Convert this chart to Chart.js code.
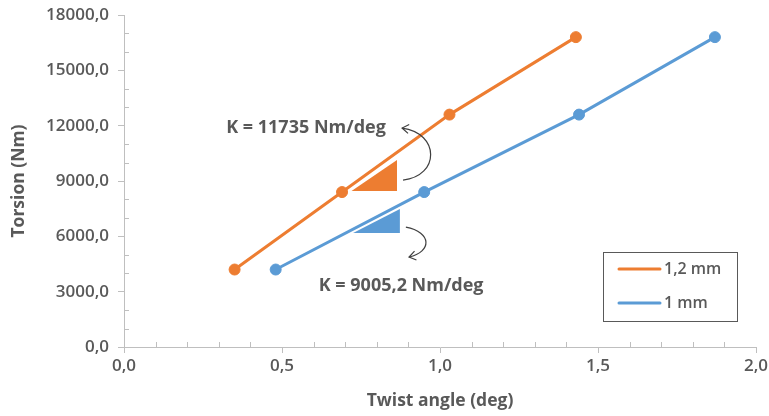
<!DOCTYPE html>
<html>
<head>
<meta charset="utf-8">
<script src="https://cdn.jsdelivr.net/npm/chart.js@4.4.0/dist/chart.umd.min.js"></script>
<style>
  html, body { margin: 0; padding: 0; background: #fff; }
  #wrap { width: 769px; height: 416px; }
</style>
</head>
<body>
<div id="wrap"><canvas id="chart" width="769" height="416"></canvas></div>
<script>
// Данные графика
const seriesLabels = ['1,2 mm', '1 mm'];
const torsionValues = [4200, 8400, 12600, 16800];
const angle12mm = [0.35, 0.69, 1.03, 1.43];
const angle1mm = [0.48, 0.95, 1.44, 1.87];
const stiffnessLabels = ['K = 11735 Nm/deg', 'K = 9005,2 Nm/deg'];

// Треугольники наклона (в координатах данных)
const triangle12mm = [[0.72, 8460], [0.864, 10140], [0.864, 8460]];
const triangle1mm = [[0.725, 6180], [0.873, 7480], [0.873, 6180]];

const ORANGE = '#ED7D31';
const BLUE = '#5B9BD5';
const TEXT = '#595959';
const AXIS = '#BFBFBF';
const FONT = "'Open Sans', sans-serif";

function toPoints(xs, ys) {
    return xs.map((x, i) => ({ x: x, y: ys[i] }));
}

function fmt(v, digits) {
    return Number(v).toFixed(digits).replace('.', ',');
}

// Подписи, стрелки, треугольники, мелкие деления и легенда
const annotations = {
    id: 'annotations',
    beforeDatasetsDraw(chart) {
        const { ctx, scales: { x, y } } = chart;
        [[triangle12mm, ORANGE], [triangle1mm, BLUE]].forEach(([tri, color]) => {
            ctx.save();
            ctx.beginPath();
            tri.forEach(([vx, vy], i) => {
                const px = x.getPixelForValue(vx), py = y.getPixelForValue(vy);
                if (i === 0) ctx.moveTo(px, py); else ctx.lineTo(px, py);
            });
            ctx.closePath();
            ctx.fillStyle = color;
            ctx.fill();
            ctx.restore();
        });
    },
    afterDraw(chart) {
        const { ctx, chartArea, scales: { x, y } } = chart;
        ctx.save();

        // мелкие деления внутрь
        ctx.strokeStyle = AXIS;
        ctx.lineWidth = 1;
        for (let i = 1; i < 20; i++) {
            if (i % 5 === 0) continue;
            const px = Math.round(x.getPixelForValue(i / 10)) + 0.5;
            ctx.beginPath();
            ctx.moveTo(px, chartArea.bottom);
            ctx.lineTo(px, chartArea.bottom - 5);
            ctx.stroke();
        }
        for (let i = 1; i < 18; i++) {
            if (i % 3 === 0) continue;
            const py = Math.round(y.getPixelForValue(i * 1000)) + 0.5;
            ctx.beginPath();
            ctx.moveTo(chartArea.left, py);
            ctx.lineTo(chartArea.left + 5, py);
            ctx.stroke();
        }

        // подписи K
        ctx.fillStyle = TEXT;
        ctx.font = 'bold 18px ' + FONT;
        ctx.textAlign = 'center';
        ctx.textBaseline = 'middle';
        ctx.fillText(stiffnessLabels[0], x.getPixelForValue(0.576), y.getPixelForValue(11870));
        ctx.fillText(stiffnessLabels[1], x.getPixelForValue(0.877), y.getPixelForValue(3310));

        // изогнутые стрелки
        ctx.strokeStyle = '#404040';
        ctx.lineWidth = 1.2;
        const P = (vx, vy) => [x.getPixelForValue(vx), y.getPixelForValue(vy)];
        function arrow(s, c1, c2, e, head) {
            const a = P(...s), b = P(...c1), c = P(...c2), d = P(...e);
            ctx.beginPath();
            ctx.moveTo(a[0], a[1]);
            ctx.bezierCurveTo(b[0], b[1], c[0], c[1], d[0], d[1]);
            ctx.stroke();
            const tip = head === 'start' ? a : d;
            const from = head === 'start' ? b : c;
            const ang = Math.atan2(tip[1] - from[1], tip[0] - from[0]);
            ctx.beginPath();
            ctx.moveTo(tip[0] - 8 * Math.cos(ang - 0.6), tip[1] - 8 * Math.sin(ang - 0.6));
            ctx.lineTo(tip[0], tip[1]);
            ctx.lineTo(tip[0] - 8 * Math.cos(ang + 0.6), tip[1] - 8 * Math.sin(ang + 0.6));
            ctx.stroke();
        }
        arrow([0.880, 11870], [1.0, 11600], [1.0, 9270], [0.883, 9050], 'start');
        arrow([0.892, 6500], [0.975, 6230], [0.975, 5150], [0.902, 4880], 'end');

        // легенда
        const bx = chartArea.right - 153, by = chartArea.top + 237, bw = 134, bh = 69;
        ctx.strokeStyle = '#595959';
        ctx.lineWidth = 1;
        ctx.strokeRect(bx + 0.5, by + 0.5, bw, bh);
        ctx.font = '600 16px ' + FONT;
        ctx.textAlign = 'left';
        chart.data.datasets.forEach((ds, i) => {
            const ly = by + 17 + i * 34;
            ctx.strokeStyle = ds.borderColor;
            ctx.lineWidth = 3;
            ctx.lineCap = 'round';
            ctx.beginPath();
            ctx.moveTo(bx + 16, ly);
            ctx.lineTo(bx + 57, ly);
            ctx.stroke();
            ctx.fillStyle = TEXT;
            ctx.fillText(ds.label, bx + 61, ly);
        });
        ctx.restore();
    }
};

new Chart(document.getElementById('chart'), {
    type: 'scatter',
    data: {
        datasets: [
            {
                label: seriesLabels[0],
                data: toPoints(angle12mm, torsionValues),
                showLine: true,
                borderColor: ORANGE,
                backgroundColor: ORANGE,
                borderWidth: 3,
                pointRadius: 5.5,
                pointBorderWidth: 1,
                pointHoverRadius: 5.5
            },
            {
                label: seriesLabels[1],
                data: toPoints(angle1mm, torsionValues),
                showLine: true,
                borderColor: BLUE,
                backgroundColor: BLUE,
                borderWidth: 3,
                pointRadius: 5.5,
                pointBorderWidth: 1,
                pointHoverRadius: 5.5
            }
        ]
    },
    options: {
        responsive: false,
        animation: false,
        layout: { padding: { top: 15, right: 13, left: 0, bottom: 0 } },
        plugins: {
            legend: { display: false },
            tooltip: { enabled: false }
        },
        scales: {
            x: {
                type: 'linear',
                min: 0,
                max: 2,
                afterFit(scale) {
                    scale.height = 69;
                    scale.paddingLeft = 0;
                    scale.paddingRight = 0;
                },
                ticks: {
                    stepSize: 0.5,
                    color: TEXT,
                    padding: 3,
                    font: { family: FONT, size: 17, weight: '600' },
                    callback: v => fmt(v, 1)
                },
                grid: { drawOnChartArea: false, color: AXIS, tickLength: 6 },
                border: { color: AXIS, width: 1 },
                title: {
                    display: true,
                    text: 'Twist angle (deg)',
                    color: TEXT,
                    padding: { top: 0, bottom: 4 },
                    font: { family: FONT, size: 17.5, weight: 'bold' }
                }
            },
            y: {
                min: 0,
                max: 18000,
                afterFit(scale) {
                    scale.width = 124;
                    scale.paddingTop = 0;
                    scale.paddingBottom = 0;
                },
                ticks: {
                    stepSize: 3000,
                    color: TEXT,
                    padding: 9,
                    font: { family: FONT, size: 17, weight: '600' },
                    callback: v => fmt(v, 1)
                },
                grid: { drawOnChartArea: false, color: AXIS, tickLength: 6 },
                border: { color: AXIS, width: 1 },
                title: {
                    display: true,
                    text: 'Torsion (Nm)',
                    color: TEXT,
                    padding: { top: 9, bottom: 0 },
                    font: { family: FONT, size: 17.5, weight: 'bold' }
                }
            }
        }
    },
    plugins: [annotations]
});
</script>
</body>
</html>
